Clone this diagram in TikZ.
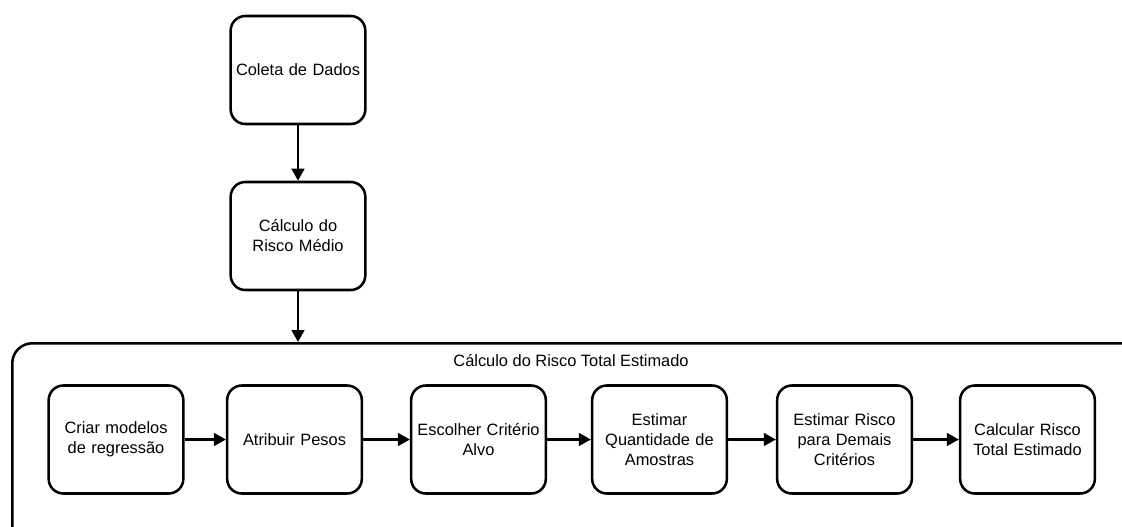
\documentclass[tikz,border=0pt]{standalone}
\usepackage{fontspec}
\setmainfont{Liberation Sans}
\usetikzlibrary{arrows.meta}

\begin{document}
\begin{tikzpicture}[x=0.75pt,y=-0.75pt,
  stepbox/.style={draw, line width=1.9pt, rounded corners=11pt,
    minimum width=101pt, minimum height=81pt, align=center,
    font=\fontsize{12.3}{15}\selectfont, inner sep=2pt, text width=96pt},
  groupbox/.style={draw, line width=1.9pt, rounded corners=15pt,
    minimum width=850pt, minimum height=160pt},
  flow/.style={line width=1.9pt, -{Triangle[length=9pt,width=9.5pt]}}]
  \useasboundingbox (0,0) rectangle (1122,526);
  \clip (0,0) rectangle (1122,526);

  % top of the chain
  \node[stepbox] (coleta) at (298,70) {Coleta de Dados};
  \node[stepbox] (medio) at (298,236) {Cálculo do\\Risco Médio};

  % group holding the estimation steps
  \node[groupbox, anchor=north west] (total) at (11,342) {};
  \node[font=\fontsize{12.3}{15}\selectfont] (titulo) at (571,361)
    {Cálculo do Risco Total Estimado};

  % estimation steps
  \node[stepbox] (criar) at (116,439.5) {Criar modelos\\de regressão};
  \node[stepbox] (pesos) at (294.5,439.5) {Atribuir Pesos};
  \node[stepbox] (alvo) at (478.5,439.5) {Escolher Critério\\Alvo};
  \node[stepbox] (amostras) at (659.5,439.5) {Estimar\\Quantidade de\\Amostras};
  \node[stepbox] (demais) at (844.5,439.5) {Estimar Risco\\para Demais\\Critérios};
  \node[stepbox] (calcular) at (1027.5,439.5) {Calcular Risco\\Total Estimado};

  % connectors
  \draw[flow] (coleta) -- (medio);
  \draw[flow] (medio) -- (medio |- total.north);
  \draw[flow] (criar) -- (pesos);
  \draw[flow] (pesos) -- (alvo);
  \draw[flow] (alvo) -- (amostras);
  \draw[flow] (amostras) -- (demais);
  \draw[flow] (demais) -- (calcular);
\end{tikzpicture}
\end{document}
